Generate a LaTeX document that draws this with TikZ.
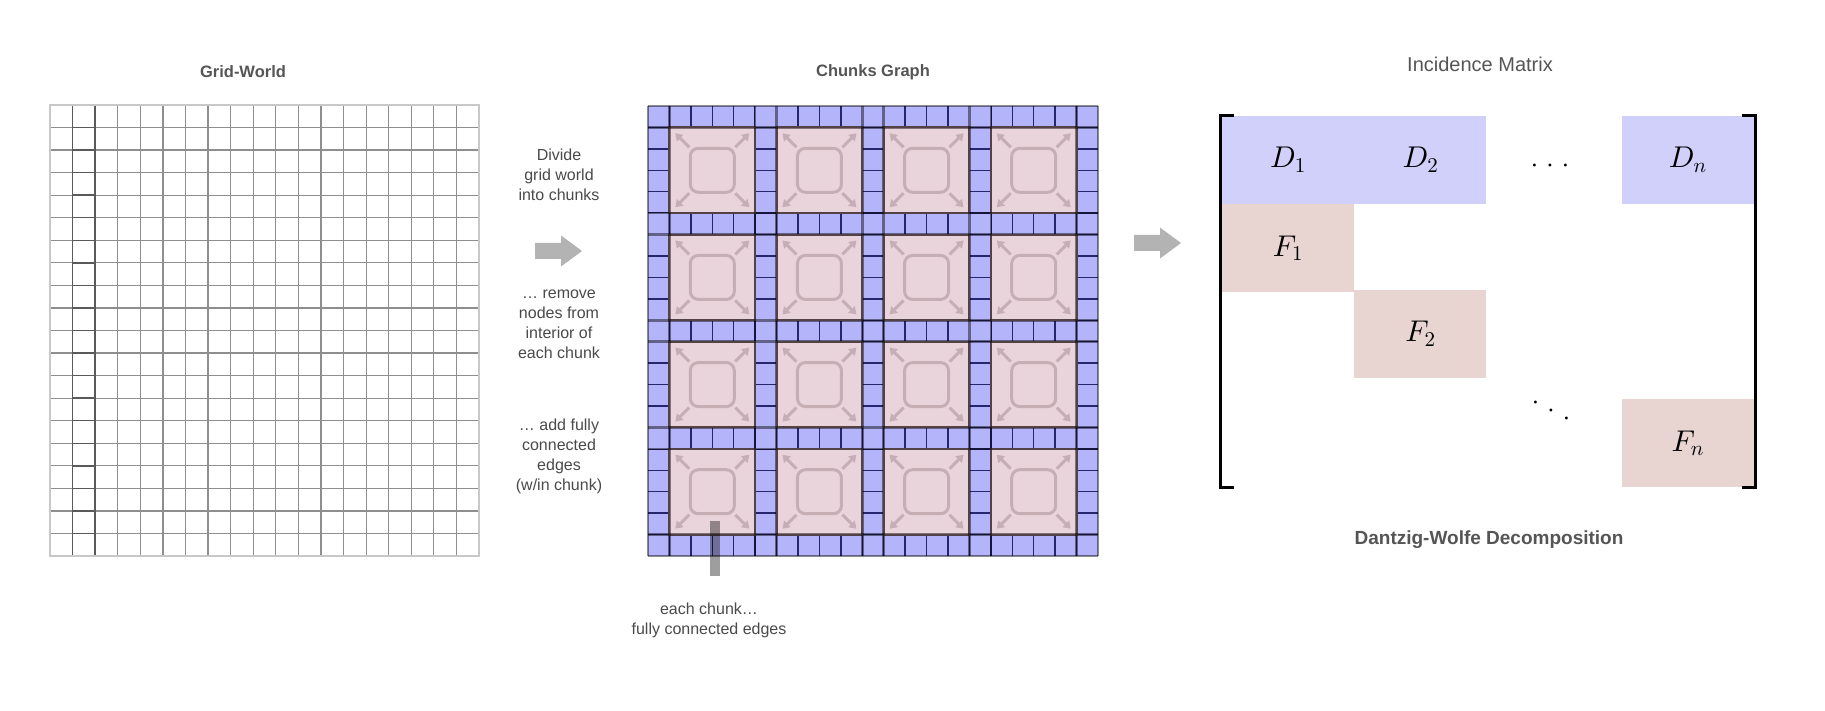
\documentclass[tikz,border=0pt]{standalone}
\usepackage{fix-cm}
\usepackage[no-math]{fontspec}
\setmainfont{Liberation Sans}
\usepackage{tikz}
\usetikzlibrary{arrows.meta,positioning,calc}
\DeclareFontShape{OML}{cmm}{m}{it}{<->cmmi10}{}
\DeclareFontShape{OT1}{cmr}{m}{n}{<-9>cmr7<9->cmr10}{}
\DeclareFontShape{OMS}{cmsy}{m}{n}{<->cmsy10}{}
\definecolor{textgray}{HTML}{555555}
\definecolor{notegray}{HTML}{4A4A4A}
\definecolor{gridgray}{HTML}{8E8E8E}
\definecolor{gridlight}{HTML}{C8C8C8}
\definecolor{griddark}{HTML}{5A5A5A}
\definecolor{stripblue}{HTML}{B4B4FA}
\definecolor{cellnavy}{HTML}{262670}
\definecolor{chunkpink}{HTML}{EAD4DB}
\definecolor{chunkedge}{HTML}{96787F}
\definecolor{iconpink}{HTML}{C6AEB5}
\definecolor{arrowgray}{HTML}{B3B3B3}
\definecolor{dblue}{HTML}{D0D0FA}
\definecolor{fpink}{HTML}{E8D5D1}
\newcommand{\rowdots}{\mathord{\cdot}\mkern5mu\mathord{\cdot}\mkern5mu\mathord{\cdot}}
\newcommand{\diagdots}{\raisebox{8pt}{$\cdot$}\mkern5mu\mathord{\cdot}\mkern5mu\raisebox{-8pt}{$\cdot$}}
\newcommand{\blockarrow}[1]{\fill[arrowgray,shift={#1}] (-24,-8) -- (2,-8) -- (2,-15.5) -- (23,0) -- (2,15.5) -- (2,8) -- (-24,8) -- cycle;}
\tikzset{title/.style={font=\fontsize{16.5}{20}\selectfont\bfseries,text=textgray},note/.style={font=\fontsize{16}{20}\selectfont,text=notegray,align=center},mblock/.style={minimum width=132pt,minimum height=88pt,inner sep=0pt,font=\fontsize{30}{34}\selectfont},dblock/.style={mblock,fill=dblue},fblock/.style={mblock,fill=fpink},bracket/.style={line width=3pt,black},stripedge/.style={line width=2.5pt,black,opacity=0.45},iconarrow/.style={-{Triangle[width=9pt,length=7pt]},line width=3pt,iconpink},callout/.style={line width=10pt,black,opacity=0.38}}

\begin{document}
\begin{tikzpicture}[x=1pt,y=-1pt]
\useasboundingbox[fill=white] (0,0) rectangle (1825,711);
% grid world
\foreach \i in {1,...,18} \draw[gridgray,line width=1.2pt] (50+\i*22.58,105) -- ++(0,451);
\foreach \j in {1,...,19} \draw[gridgray,line width=1.2pt] (50,105+\j*22.55) -- ++(429,0);
\foreach \j in {1,...,19} \draw[griddark,line width=1.5pt] (72.58,105+\j*22.55) -- ++(22.58,0);
\draw[griddark,line width=1.5pt] (72.58,105) -- ++(0,451) (95.16,105) -- ++(0,451);
\draw[gridlight,line width=1.5pt] (50,105) rectangle (479,556);
\node[title] (gwtitle) at (243,72) {Grid-World};
% chunks graph
\def\cw{21.4286}
\foreach \k in {0,5,10,15,20}{
  \fill[stripblue] (648+\k*\cw,106) rectangle ++(\cw,450);
  \fill[stripblue] (648,106+\k*\cw) rectangle ++(450,\cw);
  \foreach \i in {1,...,20}{
    \draw[cellnavy,line width=1.5pt] (648+\i*\cw,106+\k*\cw) -- ++(0,\cw);
    \draw[cellnavy,line width=1.5pt] (648+\k*\cw,106+\i*\cw) -- ++(\cw,0);
  }
}
\foreach \r in {0,...,3}
  \foreach \s in {0,...,3}{
    \coordinate (c\r\s) at (648+\s*5*\cw+3*\cw,106+\r*5*\cw+3*\cw);
    \begin{scope}[shift={(c\r\s)}]
      \draw[chunkedge,fill=chunkpink,line width=2pt] (-42.86,-42.86) rectangle (42.86,42.86);
      \draw[iconpink,line width=3pt,rounded corners=8pt] (-22,-22) rectangle (22,22);
      \foreach \dx/\dy in {1/1,1/-1,-1/1,-1/-1} \draw[iconarrow] (23*\dx,23*\dy) -- (37*\dx,37*\dy);
    \end{scope}
  }
\foreach \k in {0,5,10,15,20}{
  \draw[stripedge] (648+\k*\cw,106) -- ++(0,450) (648+\k*\cw+\cw,106) -- ++(0,450);
  \draw[stripedge] (648,106+\k*\cw) -- ++(450,0) (648,106+\k*\cw+\cw) -- ++(450,0);
}
\node[title] (cgtitle) at (873,72) {Chunks Graph};
\coordinate (chunkfoot) at (715,521);
\coordinate (calloutend) at (715,576);
\draw[callout] (chunkfoot) -- (calloutend);
\node[note] (callnote) at (709,620) {each chunk…\\fully connected edges};
% steps between the panels
\node[note] (divide) at (559,175) {Divide\\grid world\\into chunks};
\blockarrow{(559,251)}
\node[note] (remove) at (559,324) {… remove\\nodes from\\interior of\\each chunk};
\node[note] (addedges) at (559,456) {… add fully\\connected\\edges\\(w/in chunk)};
\blockarrow{(1158,243)}
% incidence matrix
\node[font=\fontsize{20}{24}\selectfont,text=textgray] (imtitle) at (1480,64) {Incidence Matrix};
\node[dblock] (d1) at (1288,160) {$D_1$};
\node[dblock,right=0pt of d1] (d2) {$D_2$};
\node[dblock,right=135pt of d2] (dn) {$D_n$};
\node[fblock,below=0pt of d1] (f1) {$F_1$};
\node[fblock,anchor=north west] (f2) at ([yshift=3pt]f1.south east) {$F_2$};
\node[fblock,below=195pt of dn] (fn) {$F_n$};
\node[font=\fontsize{28}{30}\selectfont] (hdots) at (1550,166) {$\rowdots$};
\node[font=\fontsize{28}{30}\selectfont] (ddots) at (1551,411) {$\diagdots$};
\coordinate (lbtop) at ([xshift=-1.5pt]d1.north west);
\coordinate (lbbot) at (lbtop |- fn.south);
\draw[bracket] ([xshift=14pt]lbtop) -- (lbtop) -- (lbbot) -- ([xshift=14pt]lbbot);
\coordinate (rbtop) at ([xshift=1.5pt]dn.north east);
\coordinate (rbbot) at (rbtop |- fn.south);
\draw[bracket] ([xshift=-14pt]rbtop) -- (rbtop) -- (rbbot) -- ([xshift=-14pt]rbbot);
\node[title,font=\fontsize{19}{22}\selectfont\bfseries] (dwtitle) at (1489,540) {Dantzig-Wolfe Decomposition};
\end{tikzpicture}
\end{document}
